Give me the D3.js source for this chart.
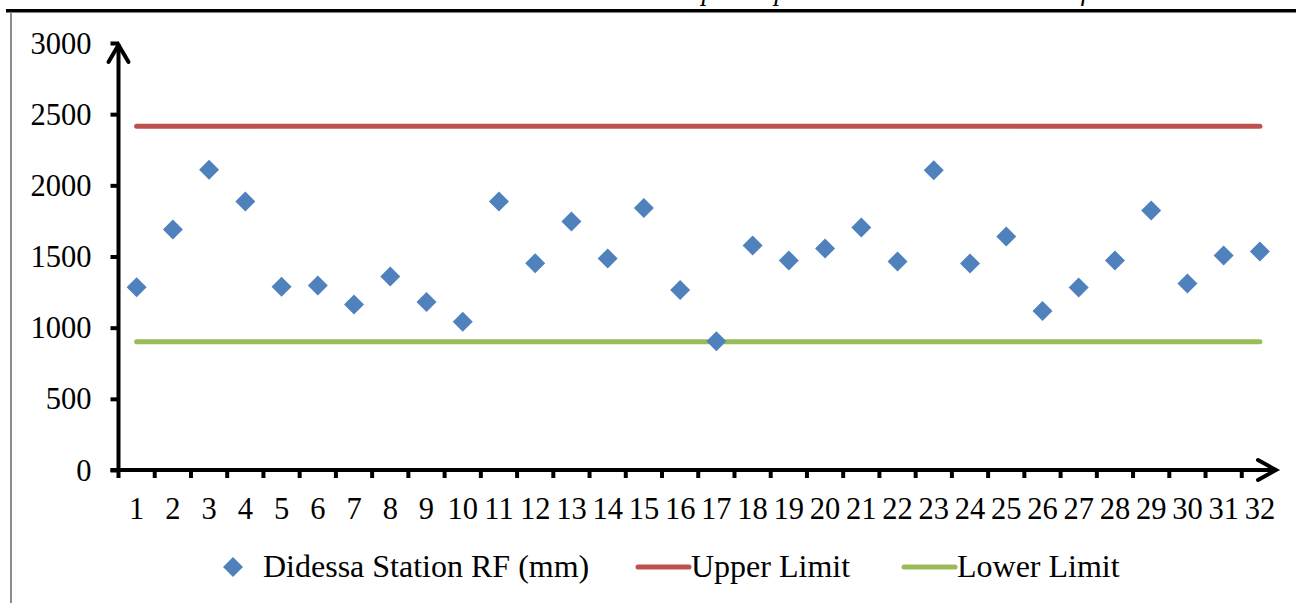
<!DOCTYPE html>
<html>
<head>
<meta charset="utf-8">
<script src="https://cdn.jsdelivr.net/npm/d3@7"></script>
<style>
  html, body { margin: 0; padding: 0; background: #fff; }
  svg { display: block; }
  text { font-family: "Liberation Serif", "Times New Roman", serif; }
</style>
</head>
<body>
<svg id="chart" width="1296" height="603"></svg>
<script>
const categories = d3.range(1, 33).map(String);
const rainfall = [1284, 1690, 2110, 1887, 1287, 1296, 1162, 1359, 1181, 1042,
                  1887, 1453, 1746, 1486, 1840, 1265, 905, 1577, 1472, 1556,
                  1704, 1465, 2106, 1451, 1641, 1117, 1282, 1472, 1824, 1310,
                  1507, 1535];
const upperLimit = 2415;
const lowerLimit = 901;
const yTicks = [0, 500, 1000, 1500, 2000, 2500, 3000];
const seriesNames = ["Didessa Station RF (mm)", "Upper Limit", "Lower Limit"];
const headerText = "Water Resources Development potential and Flow Nature of Didessa River Basin";

const svg = d3.select("#chart");
const margin = { left: 118.5, right: 1278, top: 43, bottom: 470 };

const x = d3.scaleBand().domain(categories).range([margin.left, margin.right]).padding(0);
const y = d3.scaleLinear().domain([0, 3000]).range([margin.bottom, margin.top]);

// header remnants (clipped at the top edge, as in the reference)
svg.append("text").attr("x", 438).attr("y", 0)
  .attr("font-size", 27).attr("font-style", "italic").attr("fill", "#000")
  .text(headerText);
svg.append("rect").attr("x", 6).attr("y", 9).attr("width", 1290).attr("height", 3.5).attr("fill", "#000");
svg.append("rect").attr("x", 10).attr("y", 12).attr("width", 2).attr("height", 591).attr("fill", "#8c8c8c");

// Y axis
const yAxis = d3.axisLeft(y).tickValues(yTicks).tickSize(8).tickPadding(19).tickFormat(d3.format("d"));
const gy = svg.append("g").attr("transform", `translate(${margin.left},0)`).call(yAxis);
gy.select(".domain").remove();
gy.selectAll(".tick line").attr("stroke", "#000").attr("stroke-width", 4);
gy.selectAll(".tick text").attr("font-size", 30.5).attr("fill", "#000")
  .attr("font-family", "Liberation Serif, serif").attr("dy", "0.33em");

// X axis
const xAxis = d3.axisBottom(x).tickSize(0).tickPadding(0);
const gx = svg.append("g").attr("transform", `translate(0,${margin.bottom})`).call(xAxis);
gx.select(".domain").remove();
gx.selectAll(".tick text").attr("font-size", 30.5).attr("fill", "#000")
  .attr("font-family", "Liberation Serif, serif").attr("y", 49).attr("dy", null);
// boundary ticks
const bounds = categories.map(c => x(c));
svg.append("g").selectAll("line").data(bounds.slice(1)).join("line")
  .attr("x1", d => d).attr("x2", d => d)
  .attr("y1", margin.bottom).attr("y2", margin.bottom + 8)
  .attr("stroke", "#000").attr("stroke-width", 4);

// axis lines with arrows
svg.append("line").attr("x1", margin.left).attr("x2", margin.left)
  .attr("y1", margin.bottom + 8).attr("y2", margin.top + 1)
  .attr("stroke", "#000").attr("stroke-width", 4);
svg.append("line").attr("x1", margin.left - 8).attr("x2", margin.right - 2)
  .attr("y1", margin.bottom).attr("y2", margin.bottom)
  .attr("stroke", "#000").attr("stroke-width", 4);
svg.append("path")
  .attr("d", `M${margin.left - 10},${margin.top + 19} L${margin.left},${margin.top + 2} L${margin.left + 10},${margin.top + 19}`)
  .attr("fill", "none").attr("stroke", "#000").attr("stroke-width", 4).attr("stroke-linecap", "round");
svg.append("path")
  .attr("d", `M${margin.right - 20},${margin.bottom - 10} L${margin.right - 2},${margin.bottom} L${margin.right - 20},${margin.bottom + 10}`)
  .attr("fill", "none").attr("stroke", "#000").attr("stroke-width", 4).attr("stroke-linecap", "round");

const cx = c => x(c) + x.bandwidth() / 2;

// limit lines
const lineGen = d3.line().x(d => cx(d.c)).y(d => y(d.v));
svg.append("path").datum(categories.map(c => ({ c, v: upperLimit })))
  .attr("d", lineGen).attr("fill", "none").attr("stroke", "#C0504D")
  .attr("stroke-width", 5).attr("stroke-linecap", "round");
svg.append("path").datum(categories.map(c => ({ c, v: lowerLimit })))
  .attr("d", lineGen).attr("fill", "none").attr("stroke", "#9BBB59")
  .attr("stroke-width", 5).attr("stroke-linecap", "round");

// diamonds
const diamond = r => `M0,${-r} L${r},0 L0,${r} L${-r},0 Z`;
svg.append("g").selectAll("path").data(rainfall).join("path")
  .attr("transform", (d, i) => `translate(${cx(categories[i])},${y(d)})`)
  .attr("d", diamond(10)).attr("fill", "#4F81BD");

// legend
const lg = svg.append("g");
lg.append("path").attr("transform", "translate(233,567)").attr("d", diamond(10)).attr("fill", "#4F81BD");
lg.append("text").attr("x", 263).attr("y", 577).attr("font-size", 32).text(seriesNames[0]);
lg.append("line").attr("x1", 638).attr("x2", 689).attr("y1", 567).attr("y2", 567)
  .attr("stroke", "#C0504D").attr("stroke-width", 5).attr("stroke-linecap", "round");
lg.append("text").attr("x", 691).attr("y", 577).attr("font-size", 32).text(seriesNames[1]);
lg.append("line").attr("x1", 904).attr("x2", 955).attr("y1", 567).attr("y2", 567)
  .attr("stroke", "#9BBB59").attr("stroke-width", 5).attr("stroke-linecap", "round");
lg.append("text").attr("x", 957).attr("y", 577).attr("font-size", 32).text(seriesNames[2]);
</script>
</body>
</html>
